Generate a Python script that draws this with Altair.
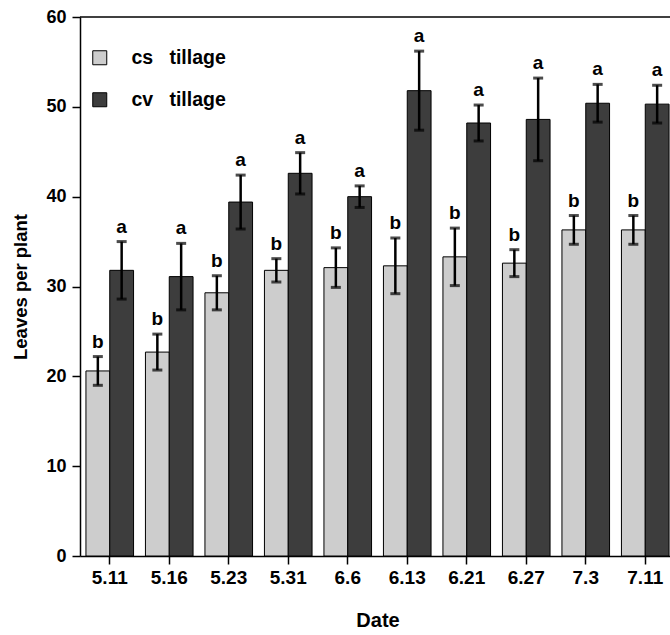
import altair as alt
import pandas as pd

dates = ["5.11", "5.16", "5.23", "5.31", "6.6", "6.13", "6.21", "6.27", "7.3", "7.11"]
groups = ["cs\u00a0\u00a0\u00a0tillage", "cv\u00a0\u00a0\u00a0tillage"]
cs_mean = [20.6, 22.7, 29.3, 31.8, 32.1, 32.3, 33.3, 32.6, 36.3, 36.3]
cs_err = [1.6, 2.0, 1.9, 1.3, 2.2, 3.1, 3.2, 1.5, 1.6, 1.6]
cv_mean = [31.8, 31.1, 39.4, 42.6, 40.0, 51.8, 48.2, 48.6, 50.4, 50.3]
cv_err = [3.2, 3.7, 3.0, 2.3, 1.2, 4.4, 2.0, 4.6, 2.1, 2.1]
cs_letters = ["b"] * 10
cv_letters = ["a"] * 10

rows = []
for i, d in enumerate(dates):
    rows.append(dict(date=d, group=groups[0], mean=cs_mean[i],
                     low=cs_mean[i] - cs_err[i], high=cs_mean[i] + cs_err[i], letter=cs_letters[i]))
    rows.append(dict(date=d, group=groups[1], mean=cv_mean[i],
                     low=cv_mean[i] - cv_err[i], high=cv_mean[i] + cv_err[i], letter=cv_letters[i]))
df = pd.DataFrame(rows)

FONT = "Liberation Sans"
YT = "Leaves per plant"

x = alt.X("date:N", sort=dates, title="Date",
          scale=alt.Scale(range=[0, 595], paddingInner=0.2, paddingOuter=0.1),
          axis=alt.Axis(labelAngle=0, titlePadding=23, titleFontSize=20, labelFontSize=19))
xo = alt.XOffset("group:N", sort=groups, scale=alt.Scale(domain=groups))
yscale = alt.Scale(domain=[0, 60])
yaxis = alt.Axis(values=[0, 10, 20, 30, 40, 50, 60], titlePadding=15, labelFontSize=18,
                 titleFontSize=18.5, labelPadding=6)

base = alt.Chart(df)

bars = base.mark_bar(stroke="black", strokeWidth=1).encode(
    x=x, xOffset=xo,
    y=alt.Y("mean:Q", scale=yscale, axis=yaxis, title=YT),
    color=alt.Color("group:N", sort=groups,
                    scale=alt.Scale(domain=groups, range=["#cdcdcd", "#3d3d3d"]),
                    legend=alt.Legend(title=None, orient="none", legendX=10, legendY=31,
                                      symbolType="square", symbolSize=196,
                                      symbolStrokeColor="black", symbolStrokeWidth=1,
                                      labelFont=FONT, labelFontSize=19.5, labelFontWeight="bold",
                                      labelColor="black", labelOffset=22, rowPadding=21,
                                      padding=0)),
)

errs = base.mark_rule(color="black", strokeWidth=2.5).encode(
    x=x, xOffset=xo,
    y=alt.Y("low:Q", scale=yscale, title=YT), y2="high:Q",
)
cap_hi = base.mark_tick(color="black", size=10, thickness=3).encode(
    x=x, xOffset=xo, y=alt.Y("high:Q", scale=yscale, title=YT))
cap_lo = base.mark_tick(color="black", size=10, thickness=3).encode(
    x=x, xOffset=xo, y=alt.Y("low:Q", scale=yscale, title=YT))
letters = base.mark_text(baseline="bottom", dy=-5, font=FONT, fontSize=19,
                         fontWeight="bold", color="black").encode(
    x=x, xOffset=xo, y=alt.Y("high:Q", scale=yscale, title=YT), text="letter:N")

top = alt.Chart(alt.Data(values=[{}])).mark_rule(color="black", strokeWidth=1.5).encode(
    y=alt.datum(60))

chart = alt.layer(bars, errs, cap_hi, cap_lo, letters, top).properties(
    width=590, height=539,
    padding={"left": 80, "top": 17, "right": 0, "bottom": 79},
    autosize=alt.AutoSizeParams(type="none"),
).configure_view(stroke=None).configure_axis(
    grid=False, domainColor="black", domainWidth=1.5, tickColor="black", tickWidth=1.5,
    tickSize=8, labelFont=FONT, labelFontWeight="bold", labelColor="black",
    labelPadding=4, titleFont=FONT, titleFontWeight="bold", titleColor="black",
)

chart.save("out.html", embed_options={"renderer": "svg", "actions": False})
